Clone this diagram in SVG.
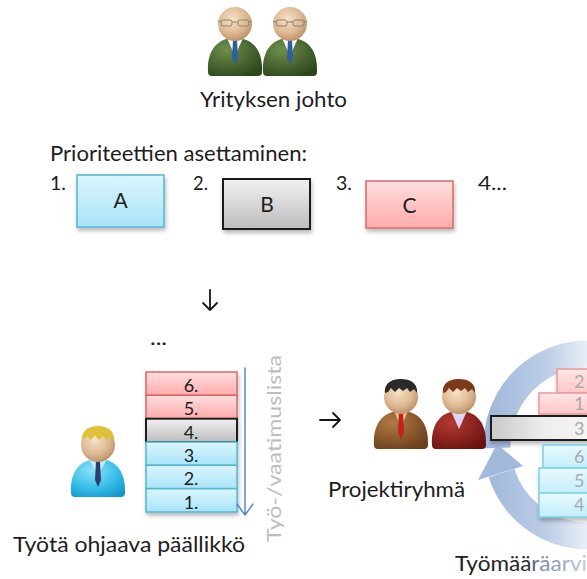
<svg xmlns="http://www.w3.org/2000/svg" width="587" height="579" viewBox="0 0 587 579">
  <defs>
    <style>
      text { font-family: Lato, "Open Sans", "Liberation Sans", sans-serif; fill: #1d1d1d; }
      .lbl { font-size: 21px; }
      .num { font-size: 20px; }
      .row { font-size: 18px; text-anchor: middle; }
      .mid { text-anchor: middle; }
      .pale { fill: #a9a9a9; font-size: 18px; }
      .bA { fill: url(#gBlue); stroke: #52b6ce; stroke-width: 1.5; }
      .bB { fill: url(#gGray); stroke: #1b1b1b; stroke-width: 2; }
      .bC { fill: url(#gRed); stroke: #d46b6b; stroke-width: 1.5; }
      .bA2 { fill: url(#gBlue2); stroke: #7fcfe0; stroke-width: 1.5; }
      .bC2 { fill: url(#gRed2); stroke: #e79a9a; stroke-width: 1.5; }
      .skin { fill: url(#gSkin); }
      .glass { fill: none; stroke: #8d8372; stroke-width: 1; }
      .arrow { fill: none; stroke: #151515; stroke-width: 1.8; stroke-linecap: round; stroke-linejoin: round; }
      .listArrow { fill: none; stroke: #5383c6; stroke-width: 1.4; stroke-linecap: round; stroke-linejoin: round; }
    </style>
    <linearGradient id="gBlue" x1="0" y1="0" x2="0" y2="1">
      <stop offset="0" stop-color="#dcf5fd"/>
      <stop offset="1" stop-color="#a8e4f8"/>
    </linearGradient>
    <linearGradient id="gGray" x1="0" y1="0" x2="0" y2="1">
      <stop offset="0" stop-color="#f2f2f2"/>
      <stop offset="1" stop-color="#bcbcbc"/>
    </linearGradient>
    <linearGradient id="gRed" x1="0" y1="0" x2="0" y2="1">
      <stop offset="0" stop-color="#ffdede"/>
      <stop offset="1" stop-color="#ffabab"/>
    </linearGradient>
    <linearGradient id="gBlue2" x1="0" y1="0" x2="0" y2="1">
      <stop offset="0" stop-color="#e8f9fe"/>
      <stop offset="1" stop-color="#c2eefb"/>
    </linearGradient>
    <linearGradient id="gRed2" x1="0" y1="0" x2="0" y2="1">
      <stop offset="0" stop-color="#ffe6e6"/>
      <stop offset="1" stop-color="#ffc6c6"/>
    </linearGradient>
    <linearGradient id="gGray2" x1="0" y1="0" x2="1" y2="0">
      <stop offset="0" stop-color="#c9c9c9"/>
      <stop offset="0.5" stop-color="#eeeeee"/>
      <stop offset="1" stop-color="#f6f6f6"/>
    </linearGradient>
    <linearGradient id="gCycle" gradientUnits="userSpaceOnUse" x1="480" y1="0" x2="600" y2="0">
      <stop offset="0" stop-color="#9db5da"/>
      <stop offset="0.55" stop-color="#bccde6"/>
      <stop offset="1" stop-color="#f7f9fc"/>
    </linearGradient>
    <linearGradient id="gFadeText" gradientUnits="userSpaceOnUse" x1="455" y1="0" x2="587" y2="0">
      <stop offset="0" stop-color="#1d1d1d"/>
      <stop offset="0.55" stop-color="#2a2a2a"/>
      <stop offset="0.62" stop-color="#6f86a6"/>
      <stop offset="1" stop-color="#c3ccd8"/>
    </linearGradient>
    <radialGradient id="gSkin" cx="0.42" cy="0.36" r="0.7">
      <stop offset="0" stop-color="#f8e2c8"/>
      <stop offset="0.6" stop-color="#dcb892"/>
      <stop offset="1" stop-color="#b58a63"/>
    </radialGradient>
    <radialGradient id="gGreen" cx="0.35" cy="0.3" r="0.8">
      <stop offset="0" stop-color="#6f8f4c"/>
      <stop offset="1" stop-color="#2c461c"/>
    </radialGradient>
    <radialGradient id="gCyan" cx="0.4" cy="0.3" r="0.8">
      <stop offset="0" stop-color="#8fe2f8"/>
      <stop offset="0.6" stop-color="#35bde8"/>
      <stop offset="1" stop-color="#1596cc"/>
    </radialGradient>
    <radialGradient id="gBrown" cx="0.35" cy="0.3" r="0.8">
      <stop offset="0" stop-color="#b27a45"/>
      <stop offset="1" stop-color="#6a3f1c"/>
    </radialGradient>
    <radialGradient id="gMaroon" cx="0.35" cy="0.3" r="0.8">
      <stop offset="0" stop-color="#b53a32"/>
      <stop offset="1" stop-color="#6a1210"/>
    </radialGradient>
    <filter id="sh" x="-10%" y="-10%" width="125%" height="140%">
      <feDropShadow dx="1" dy="3" stdDeviation="2" flood-color="#000" flood-opacity="0.28"/>
    </filter>
    <!-- shared body outline, head centred at 0,0 -->
    <path id="body" d="M-27,48 C-28,29 -20,14 0,14 C20,14 28,29 27,48 Q27,52 23,52 L-23,52 Q-27,52 -27,48 Z"/>
    <circle id="head" r="17"/>
  </defs>

  <rect width="587" height="579" fill="#ffffff"/>

  <!-- management -->
  <g id="management">
    <g transform="translate(235,24)">
      <use href="#body" fill="url(#gGreen)"/>
      <path fill="#ffffff" d="M-8,14 L8,14 L0,32 Z"/>
      <path fill="#2d5f9e" d="M-2,16 L2,16 L3,34 L0,40 L-3,34 Z"/>
      <use href="#head" class="skin"/>
      <g class="glass">
        <rect x="-14" y="-4" width="11" height="6" rx="2"/>
        <rect x="3" y="-4" width="11" height="6" rx="2"/>
        <path d="M-3,-2 L3,-2 M-14,-2 L-17,-3 M14,-2 L17,-3"/>
      </g>
    </g>
    <g transform="translate(290,24)">
      <use href="#body" fill="url(#gGreen)"/>
      <path fill="#ffffff" d="M-8,14 L8,14 L0,32 Z"/>
      <path fill="#2d5f9e" d="M-2,16 L2,16 L3,34 L0,40 L-3,34 Z"/>
      <use href="#head" class="skin"/>
      <g class="glass">
        <rect x="-14" y="-4" width="11" height="6" rx="2"/>
        <rect x="3" y="-4" width="11" height="6" rx="2"/>
        <path d="M-3,-2 L3,-2 M-14,-2 L-17,-3 M14,-2 L17,-3"/>
      </g>
    </g>
    <text class="lbl" x="200" y="107" textLength="147" lengthAdjust="spacingAndGlyphs">Yrityksen johto</text>
  </g>

  <!-- prioritisation -->
  <g id="priorities">
    <text class="lbl" x="50" y="161" textLength="257" lengthAdjust="spacingAndGlyphs">Prioriteettien asettaminen:</text>
    <text class="num" x="50" y="190" textLength="16" lengthAdjust="spacingAndGlyphs">1.</text>
    <text class="num" x="193" y="190" textLength="15" lengthAdjust="spacingAndGlyphs">2.</text>
    <text class="num" x="336" y="190" textLength="16" lengthAdjust="spacingAndGlyphs">3.</text>
    <text class="num" x="478" y="190" textLength="29" lengthAdjust="spacingAndGlyphs">4...</text>
  </g>
  <g id="boxA">
    <rect class="bA" x="77" y="175" width="87" height="52" filter="url(#sh)"/>
    <text class="lbl mid" x="120.5" y="208">A</text>
  </g>
  <g id="boxB">
    <rect class="bB" x="223" y="179" width="87" height="50" filter="url(#sh)"/>
    <text class="lbl mid" x="267" y="212">B</text>
  </g>
  <g id="boxC">
    <rect class="bC" x="366" y="181" width="87" height="47" filter="url(#sh)"/>
    <text class="lbl mid" x="409.5" y="213">C</text>
  </g>

  <!-- manager and work list -->
  <g id="manager">
    <g transform="translate(98,445)">
      <use href="#body" fill="url(#gCyan)"/>
      <path fill="#c4f0fb" d="M-9,14 L9,14 L0,30 Z"/>
      <path fill="#2c3f70" d="M-2,16 L2,16 L3,35 L0,42 L-3,35 Z"/>
      <use href="#head" class="skin"/>
      <path fill="#e0c13a" d="M-16,-5 C-17,-15 -8,-19 0,-19 C9,-19 17,-14 16,-5 L12,-9 L9,-4 L5,-9 L1,-5 L-3,-10 L-7,-5 L-11,-9 Z"/>
    </g>
    <text class="lbl" x="13" y="552" textLength="232" lengthAdjust="spacingAndGlyphs">Työtä ohjaava päällikkö</text>
  </g>

  <g id="worklist">
    <text class="lbl" x="150" y="345" textLength="17" lengthAdjust="spacingAndGlyphs">...</text>
    <g filter="url(#sh)">
      <rect class="bC" x="146" y="372" width="91" height="23.3"/>
      <rect class="bC" x="146" y="395.3" width="91" height="23.3"/>
      <rect class="bB" x="146" y="418.7" width="91" height="23.3"/>
      <rect class="bA" x="146" y="442" width="91" height="23.3"/>
      <rect class="bA" x="146" y="465.3" width="91" height="23.3"/>
      <rect class="bA" x="146" y="488.7" width="91" height="23.3"/>
    </g>
    <text class="row" x="191" y="392">6.</text>
    <text class="row" x="191" y="415">5.</text>
    <text class="row" x="191" y="438.5">4.</text>
    <text class="row" x="191" y="462">3.</text>
    <text class="row" x="191" y="485">2.</text>
    <text class="row" x="191" y="508.5">1.</text>
    <text transform="translate(281,542) rotate(-90)" x="0" y="0" font-size="20" style="fill:#bdbdbd" textLength="187" lengthAdjust="spacingAndGlyphs">Työ-/vaatimuslista</text>
  </g>

  <!-- estimation cycle -->
  <g id="cycle">
    <path d="M497,448 A91 91 0 0 1 633.5,366.2" fill="none" stroke="url(#gCycle)" stroke-width="27"/>
    <path d="M501.5,473.1 A91 91 0 0 0 657.7,503.5" fill="none" stroke="url(#gCycle)" stroke-width="27"/>
    <path d="M478,480 L497,444 L523,466 Z" fill="#a2b9dc"/>
  </g>

  <!-- project team -->
  <g id="team">
    <g transform="translate(401,397)">
      <use href="#body" fill="url(#gBrown)"/>
      <path fill="#e6c47e" d="M-7,14 L7,14 L0,30 Z"/>
      <path fill="#c41e1e" d="M-2,16 L2,16 L3,35 L0,42 L-3,35 Z"/>
      <use href="#head" class="skin"/>
      <path fill="#2a2a2a" d="M-16,-4 C-17,-15 -8,-18 0,-18 C9,-18 17,-14 16,-4 L13,-8 L9,-5 L6,-9 L2,-6 L-2,-9 L-6,-5 L-10,-9 L-13,-5 Z"/>
    </g>
    <g transform="translate(459,397)">
      <use href="#body" fill="url(#gMaroon)"/>
      <path fill="#ddd6f2" d="M-8,14 L8,14 L0,32 Z"/>
      <use href="#head" class="skin"/>
      <path fill="#7c3a1a" d="M-16,-4 C-17,-15 -8,-18 0,-18 C9,-18 17,-14 16,-4 L13,-8 L9,-5 L6,-9 L2,-6 L-2,-9 L-6,-5 L-10,-9 L-13,-5 Z"/>
    </g>
    <text class="lbl" x="328" y="497" textLength="137" lengthAdjust="spacingAndGlyphs">Projektiryhmä</text>
  </g>

  <!-- estimated backlog -->
  <g id="estimates">
    <g filter="url(#sh)">
      <rect class="bC2" x="557" y="369" width="40" height="24"/>
      <rect class="bC2" x="539" y="393" width="60" height="21"/>
      <rect x="491" y="416" width="110" height="24" fill="url(#gGray2)" stroke="#1b1b1b" stroke-width="2"/>
      <rect class="bA2" x="543" y="445" width="60" height="23"/>
      <rect class="bA2" x="539" y="468" width="60" height="25"/>
      <rect class="bA2" x="539" y="493" width="60" height="24"/>
    </g>
    <text class="pale" x="574" y="388">2</text>
    <text class="pale" x="574" y="410">1</text>
    <text class="pale" x="574" y="435">3</text>
    <text class="pale" x="574" y="463">6</text>
    <text class="pale" x="574" y="487">5</text>
    <text class="pale" x="574" y="511">4</text>
    <text class="lbl" x="455" y="571" textLength="132" lengthAdjust="spacingAndGlyphs" style="fill:url(#gFadeText)">Työmääräarvi</text>
  </g>

  <!-- flow arrows -->
  <g id="connectors">
    <path class="arrow" d="M210,290 L210,310 M203,303 L210,310 L217,303"/>
    <path class="arrow" d="M320,420 L340,420 M333,413 L340,420 L333,427"/>
    <path class="listArrow" d="M245,368 L245,515 M237,504 L245,515 L253,504"/>
  </g>
</svg>
